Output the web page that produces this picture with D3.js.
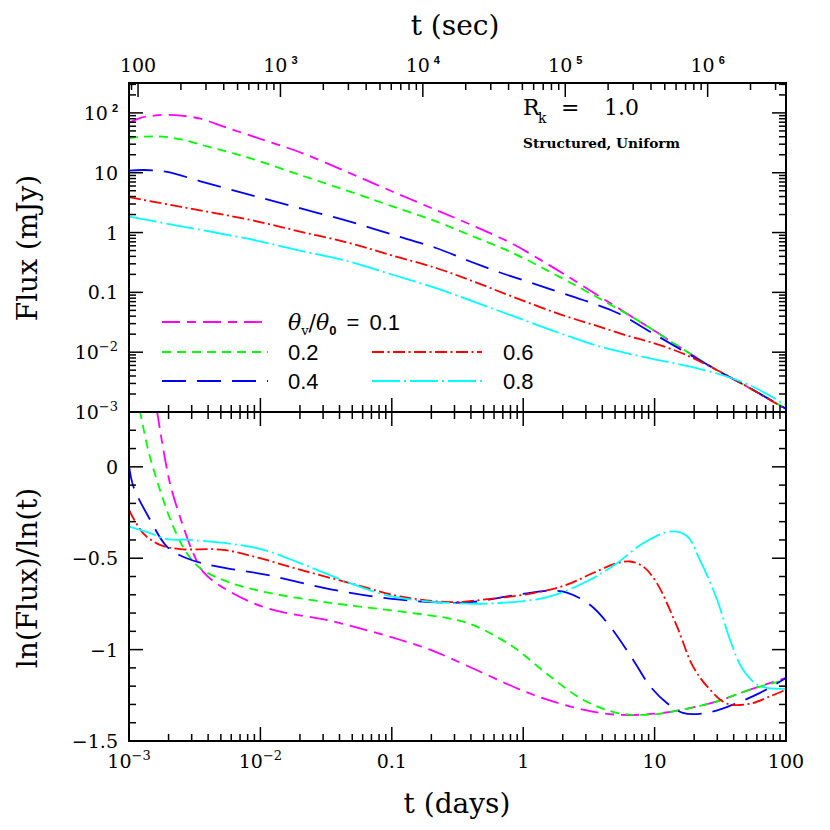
<!DOCTYPE html>
<html><head><meta charset="utf-8">
<script src="https://cdn.jsdelivr.net/npm/d3@7/dist/d3.min.js"></script>
<style>body{margin:0;background:#fff}</style>
</head><body>
<svg id="chart" width="830" height="830"></svg>
<script>
// ---------- DATA ----------
const seriesNames = ["0.1", "0.2", "0.4", "0.6", "0.8"];
const seriesColors = ["#ff00ff", "#00ff00", "#0000ff", "#ff0000", "#00ffff"];

// Top panel: [t (days), flux (mJy)]
const flux01 = [[0.001,68],[0.00121,82],[0.00155,90],[0.00195,93],[0.0025,90],[0.0035,80],[0.0055,57],[0.0099,37],[0.02,22],[0.0481,9.8],[0.1,4.9],[0.22,2.35],[0.4,1.35],[0.794,0.68],[1.6,0.28],[2.85,0.128],[6.85,0.038],[10.4,0.0215],[16.4,0.0113],[29.9,0.0050],[53.2,0.0025],[100,0.00113]];
const flux02 = [[0.001,37.8],[0.0013,40],[0.0018,40],[0.0025,36],[0.0035,29.5],[0.0055,22.7],[0.00834,17.5],[0.02,9.2],[0.0481,4.83],[0.1,2.76],[0.22,1.52],[0.4,0.89],[0.794,0.479],[1.6,0.22],[2.85,0.112],[4.5,0.064],[6.85,0.038],[10.4,0.0215],[16.4,0.0112],[29.9,0.0050],[53.2,0.0025],[100,0.00113]];
const flux04 = [[0.001,10.8],[0.0013,11.1],[0.00195,10.3],[0.0035,7.2],[0.00834,4.26],[0.02,2.55],[0.0481,1.52],[0.1,0.93],[0.22,0.546],[0.4,0.325],[0.665,0.215],[1.2,0.14],[1.6,0.113],[2.85,0.0746],[5.17,0.0457],[9.23,0.022],[16.4,0.0106],[29.9,0.0050],[53.2,0.0025],[100,0.00113]];
const flux06 = [[0.001,3.9],[0.0025,2.68],[0.00834,1.63],[0.02,1.04],[0.0481,0.663],[0.1,0.416],[0.22,0.253],[0.4,0.158],[0.794,0.088],[1.91,0.043],[3.84,0.0265],[6.5,0.0183],[9.23,0.0148],[16.4,0.0095],[29.9,0.0050],[53.2,0.0025],[100,0.0011]];
const flux08 = [[0.001,1.85],[0.0025,1.27],[0.00834,0.773],[0.02,0.50],[0.0481,0.326],[0.1,0.199],[0.22,0.117],[0.4,0.0725],[0.794,0.0419],[1.91,0.0207],[3.84,0.0124],[9.23,0.0079],[16.4,0.0061],[29.9,0.0044],[53.2,0.0028],[100,0.0013]];

// Bottom panel: [t (days), ln(Flux)/ln(t)]
const index01 = [[0.00163,0.31],[0.00205,-0.09],[0.00259,-0.327],[0.00308,-0.472],[0.00367,-0.575],[0.00554,-0.673],[0.0112,-0.773],[0.0359,-0.846],[0.1153,-0.946],[0.195,-1.0],[0.277,-1.046],[0.494,-1.128],[1.19,-1.247],[2.85,-1.328],[5.17,-1.356],[10.4,-1.35],[16.4,-1.328],[29.9,-1.283],[53.2,-1.219],[100,-1.155]];
const index02 = [[0.00121,0.31],[0.0014,0.092],[0.00172,-0.126],[0.00217,-0.327],[0.00275,-0.472],[0.00347,-0.554],[0.00554,-0.627],[0.0112,-0.687],[0.0359,-0.746],[0.1153,-0.791],[0.277,-0.83],[0.372,-0.853],[0.494,-0.89],[0.665,-0.94],[0.897,-1.0],[1.6,-1.146],[2.85,-1.274],[5.17,-1.346],[9.23,-1.356],[16.4,-1.328],[29.9,-1.283],[53.2,-1.219],[100,-1.164]];
const index04 = [[0.001,0.01],[0.00108,-0.108],[0.00145,-0.29],[0.00194,-0.436],[0.00275,-0.50],[0.00465,-0.545],[0.0112,-0.591],[0.0359,-0.673],[0.1153,-0.727],[0.372,-0.742],[0.897,-0.70],[1.6,-0.678],[2.15,-0.688],[3.22,-0.755],[4.58,-0.873],[6.85,-1.055],[9.23,-1.2],[12.4,-1.292],[16.4,-1.346],[25.0,-1.346],[39.5,-1.301],[63.4,-1.237],[100,-1.155]];
const index06 = [[0.001,-0.236],[0.00128,-0.363],[0.00172,-0.427],[0.00244,-0.45],[0.00519,-0.454],[0.00993,-0.50],[0.02,-0.563],[0.0481,-0.636],[0.1153,-0.709],[0.277,-0.74],[0.494,-0.727],[1.19,-0.691],[2.15,-0.645],[3.40,-0.581],[5.17,-0.527],[6.5,-0.518],[8.17,-0.545],[10.4,-0.636],[14.8,-0.873],[19.6,-1.092],[26.4,-1.219],[35.6,-1.296],[53.2,-1.296],[75.5,-1.256],[100,-1.219]];
const index08 = [[0.001,-0.327],[0.00145,-0.363],[0.00195,-0.396],[0.00291,-0.40],[0.00942,-0.445],[0.02,-0.527],[0.0481,-0.636],[0.1,-0.709],[0.277,-0.745],[0.665,-0.745],[1.6,-0.709],[3.22,-0.618],[5.17,-0.527],[8.17,-0.418],[13.1,-0.354],[17.6,-0.378],[22.1,-0.509],[29.9,-0.727],[37.5,-0.946],[47.1,-1.11],[63.4,-1.2],[100,-1.214]];

// Tick labels
const dayTickValues = [0.001, 0.01, 0.1, 1, 10, 100];
const dayTickLabels = ["10^−3", "10^−2", "0.1", "1", "10", "100"];
const secTickValues = [100, 1e3, 1e4, 1e5, 1e6];
const secTickLabels = ["100", "10^^3", "10^^4", "10^^5", "10^^6"];
const fluxTickValues = [0.001, 0.01, 0.1, 1, 10, 100];
const fluxTickLabels = ["10^−3", "10^−2", "0.1", "1", "10", "10^^2"];
const indexTickValues = [0, -0.5, -1, -1.5];
const indexTickLabels = ["0", "−0.5", "−1", "−1.5"];

// ---------- LAYOUT ----------
const L = 129, R = 786, T = 83, M = 412, B = 741;
const serif = "'DejaVu Serif', serif";
const sans = "'Liberation Sans', Arial, sans-serif";
const dashes = ["18,7,9,7", "9,6", "24,11", "12,3.5,2,3.5", "28,4,2,4"];
const lw = 1.8;

const svg = d3.select("#chart");
svg.append("rect").attr("width", 830).attr("height", 830).attr("fill", "#fff");

const x = d3.scaleLog().domain([1e-3, 100]).range([L, R]);
const xSec = d3.scaleLog().domain([86.4, 3.55e6]).range([L, R]);
const yFlux = d3.scaleLog().domain([1e-3, Math.pow(10, 2.5)]).range([M, T]);
const yIdx = d3.scaleLinear().domain([-1.5, 0.3]).range([B, M]);

const isDecade = v => Math.abs(Math.log10(v) - Math.round(Math.log10(v))) < 1e-6;

const defs = svg.append("defs");
defs.append("clipPath").attr("id", "clipTop").append("rect").attr("x", L).attr("y", T).attr("width", R - L).attr("height", M - T);
defs.append("clipPath").attr("id", "clipBot").append("rect").attr("x", L).attr("y", M).attr("width", R - L).attr("height", B - M);

// ---------- CURVES ----------
const fluxSeries = [flux01, flux02, flux04, flux06, flux08];
const indexSeries = [index01, index02, index04, index06, index08];
const curve = d3.curveCatmullRom.alpha(0.5);
const lineTop = d3.line().x(d => x(d[0])).y(d => yFlux(d[1])).curve(curve);
const lineBot = d3.line().x(d => x(d[0])).y(d => yIdx(d[1])).curve(curve);

const gTop = svg.append("g").attr("clip-path", "url(#clipTop)");
const gBot = svg.append("g").attr("clip-path", "url(#clipBot)");
fluxSeries.forEach((s, i) => {
  gTop.append("path").attr("d", lineTop(s)).attr("fill", "none")
    .attr("stroke", seriesColors[i]).attr("stroke-width", lw).attr("stroke-dasharray", dashes[i]);
});
indexSeries.forEach((s, i) => {
  gBot.append("path").attr("d", lineBot(s)).attr("fill", "none")
    .attr("stroke", seriesColors[i]).attr("stroke-width", lw).attr("stroke-dasharray", dashes[i]);
});

// ---------- FRAMES & TICKS ----------
const axes = svg.append("g").attr("stroke", "#000").attr("fill", "none");
axes.append("rect").attr("x", L).attr("y", T).attr("width", R - L).attr("height", B - T).attr("stroke-width", 2);
axes.append("line").attr("x1", L).attr("x2", R).attr("y1", M).attr("y2", M).attr("stroke-width", 2);

const MAJ = 14, MIN = 7;
function hTicks(scale, vals, y, dir, majFn) {
  vals.forEach(v => {
    const px = scale(v);
    if (px < L - 0.5 || px > R + 0.5) return;
    const len = majFn(v) ? MAJ : MIN;
    axes.append("line").attr("x1", px).attr("x2", px).attr("y1", y).attr("y2", y + dir * len).attr("stroke-width", 1.5);
  });
}
function vTicks(scale, vals, xx, dir, majFn, y0, y1) {
  vals.forEach(v => {
    const py = scale(v);
    if (py < y0 - 0.5 || py > y1 + 0.5) return;
    const len = majFn(v) ? MAJ : MIN;
    axes.append("line").attr("y1", py).attr("y2", py).attr("x1", xx).attr("x2", xx + dir * len).attr("stroke-width", 1.5);
  });
}
const dayTicks = x.ticks();
hTicks(x, dayTicks, B, -1, isDecade);
hTicks(x, dayTicks, M, -1, isDecade);
hTicks(x, dayTicks, M, 1, isDecade);
hTicks(xSec, xSec.ticks(), T, 1, isDecade);
const fTicks = yFlux.ticks();
vTicks(yFlux, fTicks, L, 1, isDecade, T, M);
vTicks(yFlux, fTicks, R, -1, isDecade, T, M);
const iTicks = d3.range(-15, 4).map(k => k / 10);
const iMaj = v => Math.abs(v * 2 - Math.round(v * 2)) < 1e-6;
vTicks(yIdx, iTicks, L, 1, iMaj, M, B);
vTicks(yIdx, iTicks, R, -1, iMaj, M, B);

// ---------- TICK LABELS ----------
function label(px, py, str, anchor) {
  const t = svg.append("text").attr("x", px).attr("y", py).attr("text-anchor", anchor)
    .attr("font-family", serif).attr("font-size", 19).attr("fill", "#000");
  if (str.includes("^^")) {
    const [b, s] = str.split("^^");
    t.append("tspan").text(b);
    t.append("tspan").attr("dx", 4).attr("dy", -8).attr("font-family", sans).attr("font-weight", "bold").attr("font-size", 11).text(s);
  } else if (str.includes("^")) {
    const [b, s] = str.split("^");
    t.append("tspan").text(b);
    t.append("tspan").attr("dy", -8).attr("font-size", 13).text(s);
  } else t.text(str);
  return t;
}
dayTickValues.forEach((v, i) => label(x(v), 768, dayTickLabels[i], "middle"));
secTickValues.forEach((v, i) => label(xSec(v), 72, secTickLabels[i], "middle"));
fluxTickValues.forEach((v, i) => label(118, yFlux(v) + 7, fluxTickLabels[i], "end"));
indexTickValues.forEach((v, i) => label(118, yIdx(v) + 7, indexTickLabels[i], "end"));

// ---------- AXIS TITLES ----------
svg.append("text").attr("x", 455).attr("y", 35).attr("text-anchor", "middle")
  .attr("font-family", serif).attr("font-size", 28).text("t (sec)");
svg.append("text").attr("x", 457).attr("y", 813).attr("text-anchor", "middle")
  .attr("font-family", serif).attr("font-size", 28).text("t (days)");
svg.append("text").attr("transform", "translate(37,248) rotate(-90)").attr("text-anchor", "middle")
  .attr("font-family", serif).attr("font-size", 28).text("Flux (mJy)");
svg.append("text").attr("transform", "translate(37,578) rotate(-90)").attr("text-anchor", "middle")
  .attr("font-family", serif).attr("font-size", 28).text("ln(Flux)/ln(t)");

// ---------- ANNOTATION ----------
const rk = svg.append("text").attr("y", 115).attr("font-family", serif).attr("font-size", 22);
rk.append("tspan").attr("x", 523).text("R");
rk.append("tspan").attr("x", 538).attr("dy", 8).attr("font-size", 14).text("k");
rk.append("tspan").attr("x", 561).attr("dy", -8).text("=");
rk.append("tspan").attr("x", 604).text("1.0");
svg.append("text").attr("x", 523).attr("y", 148).attr("font-family", serif).attr("font-weight", "bold")
  .attr("font-size", 12).attr("textLength", 157).attr("lengthAdjust", "spacingAndGlyphs").text("Structured, Uniform");

// ---------- LEGEND ----------
const legendRows = [
  {i: 0, x1: 162, x2: 268, y: 322, tx: 288},
  {i: 1, x1: 162, x2: 268, y: 352, tx: 288},
  {i: 2, x1: 162, x2: 268, y: 381, tx: 288},
  {i: 3, x1: 372, x2: 482, y: 352, tx: 503},
  {i: 4, x1: 372, x2: 482, y: 381, tx: 503}
];
legendRows.forEach(r => {
  svg.append("line").attr("x1", r.x1).attr("x2", r.x2).attr("y1", r.y).attr("y2", r.y)
    .attr("stroke", seriesColors[r.i]).attr("stroke-width", lw).attr("stroke-dasharray", dashes[r.i]);
  const t = svg.append("text").attr("x", r.tx).attr("y", r.y + 8).attr("font-family", sans).attr("font-size", 22);
  if (r.i === 0) {
    t.append("tspan").attr("font-family", serif).attr("font-style", "italic").text("θ");
    t.append("tspan").attr("font-family", serif).attr("font-size", 13).attr("dy", 5).text("v");
    t.append("tspan").attr("font-family", serif).attr("dy", -5).text("/");
    t.append("tspan").attr("font-family", serif).attr("font-style", "italic").text("θ");
    t.append("tspan").attr("font-size", 13).attr("font-weight", "bold").attr("dy", 5).text("0");
    t.append("tspan").attr("dy", -5).attr("dx", 10).text("=");
    t.append("tspan").attr("dx", 10).text(seriesNames[0]);
  } else {
    t.text(seriesNames[r.i]);
  }
});
</script>
</body></html>
